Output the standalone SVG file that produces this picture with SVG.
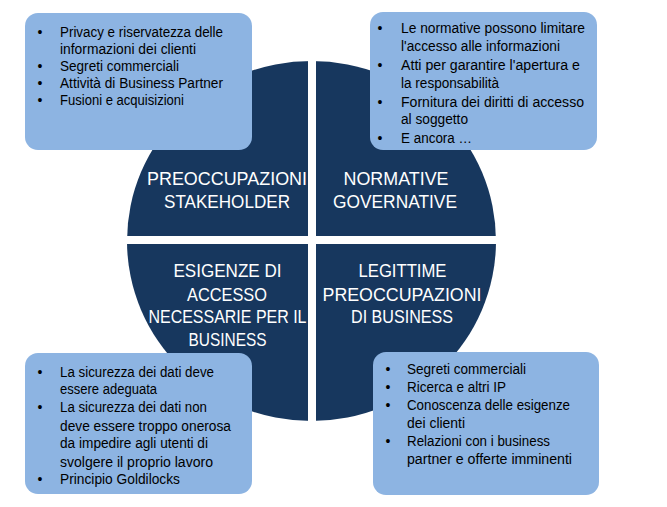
<svg xmlns="http://www.w3.org/2000/svg" width="667" height="507" viewBox="0 0 667 507">
<style>
.q{fill:#17375E}
.box{fill:#8DB4E2}
.ql{font-family:"Liberation Sans",Arial,sans-serif;font-size:18.5px;fill:#FFFFFF;text-anchor:middle}
.t{font-family:"Liberation Sans",Arial,sans-serif;font-size:14px;fill:#000000}
.b{font-family:"Liberation Sans",Arial,sans-serif;font-size:14px;fill:#000000;text-anchor:middle}
</style>
<defs>
<clipPath id="circ"><ellipse cx="311.5" cy="241" rx="184.5" ry="180"/></clipPath>
</defs>
<rect width="667" height="507" fill="#FFFFFF"/>
<g id="connectors"></g>
<g id="q-stakeholder">
<rect class="q" x="127" y="61" width="181" height="175" clip-path="url(#circ)"/>
<text class="ql" x="227" y="185" textLength="160" lengthAdjust="spacingAndGlyphs">PREOCCUPAZIONI</text>
<text class="ql" x="227" y="208" textLength="126" lengthAdjust="spacingAndGlyphs">STAKEHOLDER</text>
</g>
<g id="q-normative">
<rect class="q" x="316" y="61" width="181" height="175" clip-path="url(#circ)"/>
<text class="ql" x="396" y="185" textLength="105" lengthAdjust="spacingAndGlyphs">NORMATIVE</text>
<text class="ql" x="395" y="208" textLength="124" lengthAdjust="spacingAndGlyphs">GOVERNATIVE</text>
</g>
<g id="q-esigenze">
<rect class="q" x="127" y="244" width="181" height="178" clip-path="url(#circ)"/>
<text class="ql" x="227.5" y="277" textLength="108" lengthAdjust="spacingAndGlyphs">ESIGENZE DI</text>
<text class="ql" x="227" y="300.5" textLength="80" lengthAdjust="spacingAndGlyphs">ACCESSO</text>
<text class="ql" x="227.5" y="323" textLength="158" lengthAdjust="spacingAndGlyphs">NECESSARIE PER IL</text>
<text class="ql" x="227.5" y="346" textLength="78" lengthAdjust="spacingAndGlyphs">BUSINESS</text>
</g>
<g id="q-legittime">
<rect class="q" x="316" y="244" width="181" height="178" clip-path="url(#circ)"/>
<text class="ql" x="402.5" y="277" textLength="88" lengthAdjust="spacingAndGlyphs">LEGITTIME</text>
<text class="ql" x="402" y="300.5" textLength="159" lengthAdjust="spacingAndGlyphs">PREOCCUPAZIONI</text>
<text class="ql" x="402" y="323" textLength="102" lengthAdjust="spacingAndGlyphs">DI BUSINESS</text>
</g>
<g id="box-tl">
<rect class="box" x="25" y="13" width="227" height="137" rx="13"/>
<text class="b" x="40" y="37">•</text>
<text class="t" x="60" y="37" textLength="163" lengthAdjust="spacingAndGlyphs">Privacy e riservatezza delle</text>
<text class="t" x="60" y="54" textLength="136" lengthAdjust="spacingAndGlyphs">informazioni dei clienti</text>
<text class="b" x="40" y="71">•</text>
<text class="t" x="60" y="71" textLength="119" lengthAdjust="spacingAndGlyphs">Segreti commerciali</text>
<text class="b" x="40" y="88">•</text>
<text class="t" x="60" y="88" textLength="163" lengthAdjust="spacingAndGlyphs">Attività di Business Partner</text>
<text class="b" x="40" y="105">•</text>
<text class="t" x="60" y="105" textLength="124" lengthAdjust="spacingAndGlyphs">Fusioni e acquisizioni</text>
</g>
<g id="box-tr">
<rect class="box" x="370" y="12" width="227" height="138" rx="13"/>
<text class="b" x="380" y="33">•</text>
<text class="t" x="401" y="33" textLength="184" lengthAdjust="spacingAndGlyphs">Le normative possono limitare</text>
<text class="t" x="401" y="51" textLength="159" lengthAdjust="spacingAndGlyphs">l'accesso alle informazioni</text>
<text class="b" x="380" y="70">•</text>
<text class="t" x="401" y="70" textLength="179" lengthAdjust="spacingAndGlyphs">Atti per garantire l'apertura e</text>
<text class="t" x="401" y="88" textLength="98" lengthAdjust="spacingAndGlyphs">la responsabilità</text>
<text class="b" x="380" y="107">•</text>
<text class="t" x="401" y="107" textLength="183" lengthAdjust="spacingAndGlyphs">Fornitura dei diritti di accesso</text>
<text class="t" x="401" y="124" textLength="67" lengthAdjust="spacingAndGlyphs">al soggetto</text>
<text class="b" x="380" y="143">•</text>
<text class="t" x="401" y="143" textLength="71" lengthAdjust="spacingAndGlyphs">E ancora …</text>
</g>
<g id="box-bl">
<rect class="box" x="25" y="353" width="227" height="141" rx="13"/>
<text class="b" x="40" y="377">•</text>
<text class="t" x="60" y="377" textLength="154" lengthAdjust="spacingAndGlyphs">La sicurezza dei dati deve</text>
<text class="t" x="60" y="394" textLength="97" lengthAdjust="spacingAndGlyphs">essere adeguata</text>
<text class="b" x="40" y="412">•</text>
<text class="t" x="60" y="412" textLength="147" lengthAdjust="spacingAndGlyphs">La sicurezza dei dati non</text>
<text class="t" x="60" y="431" textLength="171" lengthAdjust="spacingAndGlyphs">deve essere troppo onerosa</text>
<text class="t" x="60" y="448" textLength="148" lengthAdjust="spacingAndGlyphs">da impedire agli utenti di</text>
<text class="t" x="60" y="467" textLength="153" lengthAdjust="spacingAndGlyphs">svolgere il proprio lavoro</text>
<text class="b" x="40" y="484">•</text>
<text class="t" x="60" y="484" textLength="120" lengthAdjust="spacingAndGlyphs">Principio Goldilocks</text>
</g>
<g id="box-br">
<rect class="box" x="373" y="352" width="226" height="143" rx="13"/>
<text class="b" x="388" y="374">•</text>
<text class="t" x="407" y="374" textLength="119" lengthAdjust="spacingAndGlyphs">Segreti commerciali</text>
<text class="b" x="388" y="392">•</text>
<text class="t" x="407" y="392" textLength="99" lengthAdjust="spacingAndGlyphs">Ricerca e altri IP</text>
<text class="b" x="388" y="410">•</text>
<text class="t" x="407" y="410" textLength="163" lengthAdjust="spacingAndGlyphs">Conoscenza delle esigenze</text>
<text class="t" x="407" y="428" textLength="58" lengthAdjust="spacingAndGlyphs">dei clienti</text>
<text class="b" x="388" y="446">•</text>
<text class="t" x="407" y="446" textLength="143" lengthAdjust="spacingAndGlyphs">Relazioni con i business</text>
<text class="t" x="407" y="464" textLength="165" lengthAdjust="spacingAndGlyphs">partner e offerte imminenti</text>
</g>
</svg>
